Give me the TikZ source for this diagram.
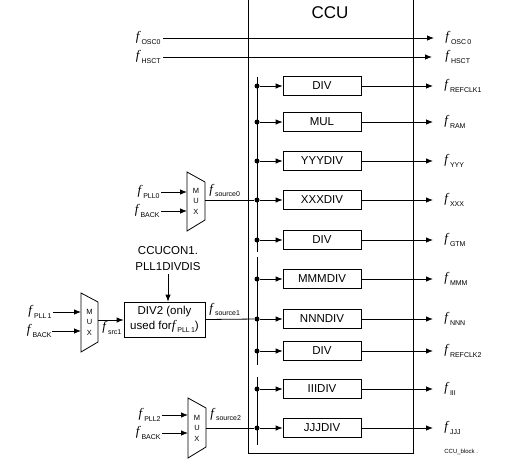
\documentclass[tikz,border=0pt]{standalone}
\usepackage{fontspec}
\setmainfont{Liberation Sans}
\newfontfamily\serf{Liberation Serif}
\usetikzlibrary{arrows.meta}
\newcommand\fsig[1]{{\serf\fontsize{13}{13}\selectfont\itshape f}\kern2pt\raisebox{-3.5pt}{\fontsize{7}{7}\selectfont #1}}
\begin{document}
\begin{tikzpicture}[x=1pt,y=-1pt, line width=0.8pt,
  >={Latex[length=7pt,width=5.5pt]},
  blk/.style={draw, minimum width=78pt, minimum height=19pt, inner sep=0pt, font=\fontsize{11.5}{12}\selectfont},
  lbl/.style={inner sep=0pt},
  dot/.style={circle, fill, inner sep=0pt, minimum size=5pt},
  muxtxt/.style={font=\fontsize{7.5}{10.5}\selectfont, align=center, inner sep=0pt},
  txt/.style={font=\fontsize{11.5}{16}\selectfont, align=center, inner sep=0pt}]
\useasboundingbox (0,0) rectangle (512,464);

% CCU frame
\draw (248,-2) -- (248,453) -- (413,453) -- (413,-2);
\node[font=\fontsize{17}{18}\selectfont] (ccu) at (330,13) {CCU};

% pass-through clocks
\node[lbl,anchor=east] (iosc) at (161,38) {\fsig{OSC0}};
\node[lbl,anchor=west] (oosc) at (445,38) {\fsig{OSC\,0}};
\draw[->,shorten <=2pt,shorten >=11pt] (iosc) -- (oosc.west);
\node[lbl,anchor=east] (ihsct) at (161,57) {\fsig{HSCT}};
\node[lbl,anchor=west] (ohsct) at (445,57) {\fsig{HSCT}};
\draw[->,shorten <=2pt,shorten >=13pt] (ihsct) -- (ohsct.west);

% bus segments
\coordinate (bs1) at (257,77);  \coordinate (be1) at (257,252);
\coordinate (bs2) at (257,257); \coordinate (be2) at (257,365);
\coordinate (bs3) at (257,377); \coordinate (be3) at (257,445);
\draw (bs1) -- (be1);
\draw (bs2) -- (be2);
\draw (bs3) -- (be3);

% divider blocks
\foreach \i/\y/\name/\out in {1/86/DIV/REFCLK1, 2/122/MUL/RAM, 3/161/YYYDIV/YYY,
    4/200/XXXDIV/XXX, 5/240/DIV/GTM, 6/279/MMMDIV/MMM, 7/319/NNNDIV/NNN,
    8/351/DIV/REFCLK2, 9/389/IIIDIV/III, 10/428/JJJDIV/JJJ}{
  \node[dot] (d\i) at (257,\y) {};
  \node[blk] (b\i) at (322,\y) {\name};
  \node[lbl,anchor=west] (o\i) at (444,\y) {\fsig{\out}};
  \draw[->] (d\i) -- (b\i.west);
  \draw[->,shorten >=11pt] (b\i.east) -- (o\i.west);
}

% MUX 0
\draw (187,172) -- (205,182) -- (205,220) -- (187,231) -- cycle;
\node[muxtxt] (mux0) at (196,201) {M\\U\\X};
\node[lbl,anchor=east] (pll0) at (160,192) {\fsig{PLL0}};
\node[lbl,anchor=east] (back0) at (160,211) {\fsig{BACK}};
\coordinate (m0a) at (187,192);
\coordinate (m0b) at (187,211);
\coordinate (m0o) at (205,200);
\draw[->,shorten <=1pt] (pll0) -- (m0a);
\draw[->,shorten <=1pt] (back0) -- (m0b);
\draw (m0o) -- (d4);
\node[lbl,anchor=south west] (s0) at (209,197) {\fsig{source0}};

% MUX 1 and DIV2
\draw (81,293) -- (98,302) -- (98,342) -- (81,352) -- cycle;
\node[muxtxt] (mux1) at (89.5,322) {M\\U\\X};
\node[lbl,anchor=east] (pll1) at (52,312) {\fsig{PLL\,1}};
\node[lbl,anchor=east] (back1) at (52,331) {\fsig{BACK}};
\coordinate (m1a) at (81,312);
\coordinate (m1b) at (81,331);
\coordinate (m1o) at (98,320);
\draw[->,shorten <=1pt] (pll1) -- (m1a);
\draw[->] (back1) -- (m1b);
\node[draw, minimum width=81pt, minimum height=35pt, inner sep=0pt, align=center,
      font=\fontsize{11.5}{15}\selectfont] (div2) at (164.5,319.5)
      {DIV2 (only\\used for\fsig{PLL\,1})};
\draw[->] (m1o) -- (m1o -| div2.west);
\node[lbl,anchor=north west] (src1) at (102,321) {\fsig{src1}};
\draw (div2.east) -- (d7);
\node[lbl,anchor=south west] (s1) at (209,316) {\fsig{source1}};
\node[txt] (ccucon) at (168,259) {CCUCON1.\\PLL1DIVDIS};
\draw[->] (ccucon.south) ++(0,3) -- (ccucon.south |- div2.north);

% MUX 2
\draw (188,398) -- (206,408) -- (206,447) -- (188,458) -- cycle;
\node[muxtxt] (mux2) at (197,428) {M\\U\\X};
\node[lbl,anchor=east] (pll2) at (161,415) {\fsig{PLL2}};
\node[lbl,anchor=east] (back2) at (161,433) {\fsig{BACK}};
\coordinate (m2a) at (188,415);
\coordinate (m2b) at (188,433);
\coordinate (m2o) at (206,428);
\draw[->,shorten <=1pt] (pll2) -- (m2a);
\draw[->,shorten <=1pt] (back2) -- (m2b);
\draw (m2o) -- (d10);
\node[lbl,anchor=south west] (s2) at (210,421) {\fsig{source2}};

\node[lbl,anchor=west,font=\fontsize{6}{7}\selectfont] (cap) at (444,452) {CCU\_block .};
\end{tikzpicture}
\end{document}
